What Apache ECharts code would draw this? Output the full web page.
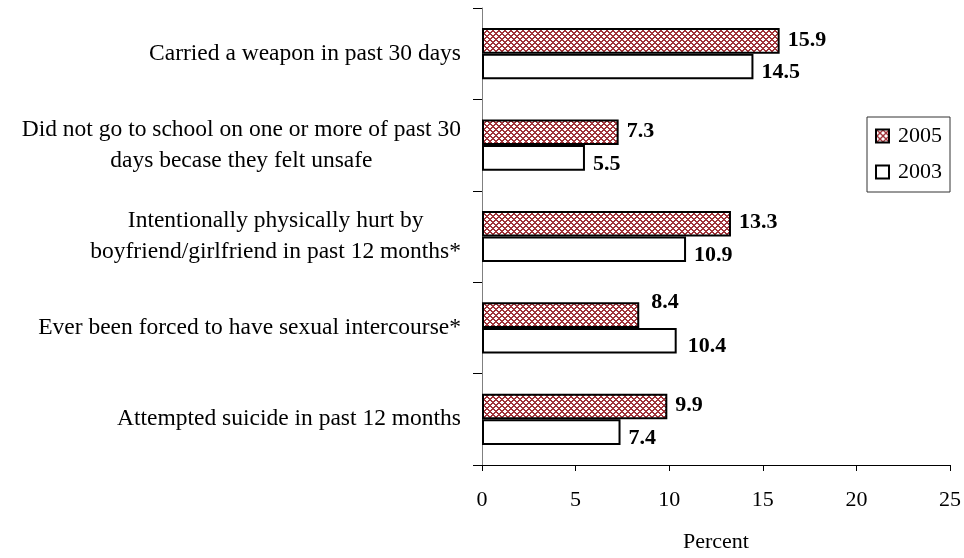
<!DOCTYPE html>
<html>
<head>
<meta charset="utf-8">
<script src="https://cdn.jsdelivr.net/npm/echarts@6/dist/echarts.min.js"></script>
<style>html,body{margin:0;padding:0;background:#fff}#c{width:964px;height:558px}</style>
</head>
<body>
<div id="c"></div>
<script>
const categories = [
  "Carried a weapon in past 30 days",
  "Did not go to school on one or more of past 30\ndays becase they felt unsafe",
  "Intentionally physically hurt by\nboyfriend/girlfriend in past 12 months*",
  "Ever been forced to have sexual intercourse*",
  "Attempted suicide in past 12 months"
];
const values2005 = [15.9, 7.3, 13.3, 8.4, 9.9];
const values2003 = [14.5, 5.5, 10.9, 10.4, 7.4];
const xTicks = [0, 5, 10, 15, 20, 25];

function makePattern() {
  const c = document.createElement('canvas');
  c.width = 6; c.height = 6;
  const ctx = c.getContext('2d');
  ctx.fillStyle = '#ffffff';
  ctx.fillRect(0, 0, 6, 6);
  ctx.fillStyle = '#a0343a';
  for (let x = 0; x < 6; x++) {
    for (let y = 0; y < 6; y++) {
      if ((x + y) % 6 === 0 || (x - y + 6) % 6 === 0 || (x + y) % 6 === 1 || (x - y + 6) % 6 === 1) {
        ctx.fillRect(x, y, 1, 1);
      }
    }
  }
  return c;
}

const pattern = { image: makePattern(), repeat: 'repeat' };
const serif = '"Liberation Serif", "Times New Roman", serif';

// label offsets (style only)
const off2005 = [[0, -1], [0, -1], [0, -1], [4, -13], [0, -1]];
const off2003 = [[0, 6], [0, 6], [0, 6], [3, 6], [0, 6]];

const chart = echarts.init(document.getElementById('c'), null, { renderer: 'canvas' });
chart.setOption({
  animation: false,
  backgroundColor: '#ffffff',
  grid: { left: 482, top: 8, width: 470, height: 465, containLabel: false },
  legend: {
    orient: 'vertical',
    left: 867, top: 117,
    padding: [8, 8, 9, 8],
    itemWidth: 13, itemHeight: 13, itemGap: 14,
    borderColor: '#333', borderWidth: 1,
    icon: 'rect',
    textStyle: { fontFamily: serif, fontSize: 22, color: '#000', padding: [0, 0, 0, 4] },
    data: ['2005', '2003']
  },
  xAxis: {
    type: 'value', min: xTicks[0], max: xTicks[xTicks.length - 1], interval: 5,
    name: 'Percent', nameLocation: 'middle', nameGap: 66,
    nameTextStyle: { fontFamily: serif, fontSize: 22, color: '#000' },
    axisLine: { show: true, lineStyle: { color: '#000', width: 1 } },
    axisTick: { show: true, length: 6, lineStyle: { color: '#000' } },
    axisLabel: { fontFamily: serif, fontSize: 22, color: '#000', margin: 24 },
    splitLine: { show: false }
  },
  yAxis: {
    type: 'category', inverse: true, data: categories,
    axisLine: { show: true, lineStyle: { color: '#808080', width: 1 } },
    axisTick: { show: true, length: 9, inside: false, lineStyle: { color: '#000' } },
    axisLabel: {
      margin: 21,
      fontFamily: serif, fontSize: 23.5, color: '#000', lineHeight: 31,
      formatter: function (v) {
        return v.split('\n').map(l => '{c|' + l + '}').join('\n');
      },
      rich: { c: { align: 'center', fontFamily: serif, fontSize: 23.5, color: '#000', lineHeight: 31 } }
    }
  },
  series: [
    {
      name: '2005', type: 'bar', data: values2005.map((v, i) => ({ value: v, label: { offset: off2005[i] } })),
      barGap: '0%', barCategoryGap: '44%',
      itemStyle: { color: pattern, borderColor: '#000', borderWidth: 2 },
      label: { show: true, position: 'right', distance: 8, fontFamily: serif, fontSize: 22, fontWeight: 'bold', color: '#000' }
    },
    {
      name: '2003', type: 'bar', data: values2003.map((v, i) => ({ value: v, label: { offset: off2003[i] } })),
      barGap: '0%', barCategoryGap: '44%',
      itemStyle: { color: '#ffffff', borderColor: '#000', borderWidth: 2 },
      label: { show: true, position: 'right', distance: 8, fontFamily: serif, fontSize: 22, fontWeight: 'bold', color: '#000' }
    }
  ]
});
</script>
</body>
</html>
